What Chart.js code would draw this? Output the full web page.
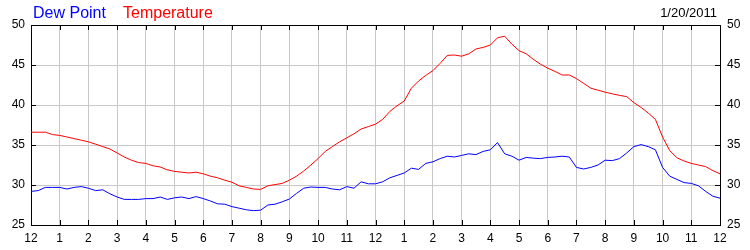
<!DOCTYPE html>
<html lang="en">
<head>
  <meta charset="UTF-8">
  <title>Dew Point / Temperature 1/20/2011</title>
  <script src="https://cdn.jsdelivr.net/npm/chart.js"></script>
  <style>
    html, body {
      margin: 0;
      padding: 0;
      background: #fff;
    }
    #wrap {
      width: 750px;
      height: 250px;
    }
  </style>
</head>
<body>
  <div id="wrap"><canvas id="chart" width="750" height="250"></canvas></div>

  <script>
    // time of day in hours, every 15 minutes
    const hours = [
      0, 0.25, 0.5, 0.75, 1, 1.25, 1.5, 1.75, 2, 2.25, 2.5, 2.75,
      3, 3.25, 3.5, 3.75, 4, 4.25, 4.5, 4.75, 5, 5.25, 5.5, 5.75,
      6, 6.25, 6.5, 6.75, 7, 7.25, 7.5, 7.75, 8, 8.25, 8.5, 8.75,
      9, 9.25, 9.5, 9.75, 10, 10.25, 10.5, 10.75, 11, 11.25, 11.5, 11.75,
      12, 12.25, 12.5, 12.75, 13, 13.25, 13.5, 13.75, 14, 14.25, 14.5, 14.75,
      15, 15.25, 15.5, 15.75, 16, 16.25, 16.5, 16.75, 17, 17.25, 17.5, 17.75,
      18, 18.25, 18.5, 18.75, 19, 19.25, 19.5, 19.75, 20, 20.25, 20.5, 20.75,
      21, 21.25, 21.5, 21.75, 22, 22.25, 22.5, 22.75, 23, 23.25, 23.5, 23.75, 24
    ];

    const dewPoint = [
      29.2, 29.3, 29.7, 29.7, 29.7, 29.5, 29.7, 29.8, 29.6, 29.3, 29.4, 28.9,
      28.5, 28.2, 28.2, 28.2, 28.3, 28.3, 28.5, 28.2, 28.4, 28.5, 28.3, 28.55,
      28.3, 28.0, 27.65, 27.6, 27.3, 27.1, 26.9, 26.8, 26.85, 27.5, 27.6, 27.9,
      28.25, 28.95, 29.6, 29.75, 29.7, 29.7, 29.5, 29.4, 29.8, 29.6, 30.4, 30.15,
      30.15, 30.4, 30.9, 31.2, 31.5, 32.1, 31.95, 32.7, 32.9, 33.3, 33.6, 33.5,
      33.7, 33.9, 33.8, 34.2, 34.4, 35.3, 33.9, 33.6, 33.1, 33.45, 33.35, 33.3,
      33.45, 33.5, 33.6, 33.5, 32.2, 32.0, 32.2, 32.5, 33.1, 33.05, 33.3, 34.0,
      34.8, 35.05, 34.8, 34.4, 32.2, 31.1, 30.7, 30.3, 30.2, 29.9, 29.2, 28.6, 28.35
    ];

    const temperature = [
      36.6, 36.6, 36.6, 36.3, 36.2, 36.0, 35.8, 35.6, 35.4, 35.1, 34.8, 34.5,
      34.0, 33.5, 33.1, 32.8, 32.7, 32.4, 32.25, 31.9, 31.7, 31.6, 31.5, 31.6,
      31.4, 31.1, 30.9, 30.6, 30.35, 29.9, 29.7, 29.5, 29.45, 29.9, 30.05, 30.2,
      30.6, 31.1, 31.75, 32.5, 33.3, 34.2, 34.8, 35.4, 35.9, 36.4, 37.0, 37.3,
      37.6, 38.2, 39.2, 39.9, 40.5, 42.1, 43.0, 43.7, 44.3, 45.2, 46.2, 46.25,
      46.1, 46.4, 47.0, 47.2, 47.5, 48.4, 48.6, 47.6, 46.8, 46.4, 45.7, 45.1,
      44.6, 44.2, 43.75, 43.75, 43.3, 42.7, 42.1, 41.85, 41.6, 41.4, 41.2, 41.05,
      40.3, 39.7, 39.0, 38.2, 36.0, 34.3, 33.4, 33.0, 32.7, 32.5, 32.3, 31.8, 31.4
    ];

    const hourLabels = [
      "12", "1", "2", "3", "4", "5", "6", "7", "8", "9", "10", "11",
      "12", "1", "2", "3", "4", "5", "6", "7", "8", "9", "10", "11", "12"
    ];
    const dateLabel = "1/20/2011";

    const FONT = "'Liberation Sans', Arial, sans-serif";

    // header texts: series names on the left, date on the right
    const headerPlugin = {
      id: "header",
      afterDraw(chart) {
        const c = chart.ctx;
        c.save();
        c.textBaseline = "alphabetic";
        c.font = "16px " + FONT;
        c.textAlign = "left";
        c.fillStyle = "#0000ff";
        c.fillText("Dew Point", 33, 18);
        c.fillStyle = "#ff0000";
        c.fillText("Temperature", 123, 18);
        c.font = "13px " + FONT;
        c.textAlign = "right";
        c.fillStyle = "#000";
        c.fillText(dateLabel, 717, 17);
        c.restore();
      }
    };

    // small tick marks pointing into the plot on all four sides
    const innerTicks = {
      id: "innerTicks",
      afterDraw(chart) {
        const c = chart.ctx;
        const { left, right, top, bottom } = chart.chartArea;
        const xs = chart.scales.x;
        const ys = chart.scales.y;
        c.save();
        c.strokeStyle = "#000";
        c.lineWidth = 1;
        c.beginPath();
        xs.ticks.forEach(t => {
          const px = Math.round(xs.getPixelForValue(t.value)) + 0.5;
          c.moveTo(px, bottom);
          c.lineTo(px, bottom - 5);
          c.moveTo(px, top);
          c.lineTo(px, top + 5);
        });
        ys.ticks.forEach(t => {
          const py = Math.round(ys.getPixelForValue(t.value)) + 0.5;
          c.moveTo(left, py);
          c.lineTo(left + 5, py);
          c.moveTo(right, py);
          c.lineTo(right - 5, py);
        });
        c.stroke();
        c.restore();
      }
    };

    const tickFont = { family: FONT, size: 12 };
    const gridColor = "#c8c8c8";

    new Chart(document.getElementById("chart"), {
      type: "line",
      data: {
        datasets: [
          {
            label: "Dew Point",
            data: hours.map((h, i) => ({ x: h, y: dewPoint[i] })),
            borderColor: "#0000ff",
            borderWidth: 1,
            pointRadius: 0,
            tension: 0,
            xAxisID: "x",
            yAxisID: "y"
          },
          {
            label: "Temperature",
            data: hours.map((h, i) => ({ x: h, y: temperature[i] })),
            borderColor: "#ff0000",
            borderWidth: 1,
            pointRadius: 0,
            tension: 0,
            xAxisID: "x",
            yAxisID: "y"
          }
        ]
      },
      options: {
        responsive: false,
        animation: false,
        layout: { padding: 0 },
        plugins: {
          legend: { display: false },
          title: { display: false },
          tooltip: { enabled: false }
        },
        scales: {
          x: {
            type: "linear",
            position: "bottom",
            min: 0,
            max: 24,
            ticks: {
              stepSize: 1,
              autoSkip: false,
              maxRotation: 0,
              padding: 6,
              color: "#000",
              font: tickFont,
              callback: v => hourLabels[v]
            },
            grid: { color: gridColor, drawTicks: false },
            border: { color: "#000", width: 1 },
            afterFit: s => { s.height = 25; }
          },
          xTop: {
            type: "linear",
            position: "top",
            min: 0,
            max: 24,
            ticks: { display: false },
            grid: { drawOnChartArea: false, drawTicks: false },
            border: { color: "#000", width: 1 },
            afterFit: s => { s.height = 25; }
          },
          y: {
            position: "left",
            min: 25,
            max: 50,
            ticks: {
              stepSize: 5,
              padding: 6,
              color: "#000",
              font: tickFont
            },
            grid: { color: gridColor, drawTicks: false },
            border: { color: "#000", width: 1 },
            afterFit: s => { s.width = 31; }
          },
          yRight: {
            position: "right",
            min: 25,
            max: 50,
            ticks: {
              stepSize: 5,
              padding: 7,
              color: "#000",
              font: tickFont
            },
            grid: { drawOnChartArea: false, drawTicks: false },
            border: { color: "#000", width: 1 },
            afterFit: s => { s.width = 30; }
          }
        }
      },
      plugins: [headerPlugin, innerTicks]
    });
  </script>
</body>
</html>
